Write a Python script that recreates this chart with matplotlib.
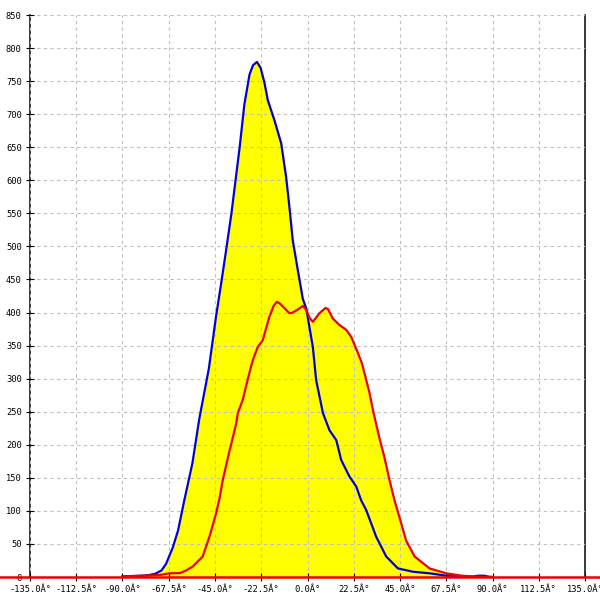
import matplotlib
matplotlib.use("Agg")
import matplotlib.pyplot as plt

# blue series (degrees, count)
blue_deg = [-90, -85, -80, -77, -74, -71, -68.8, -65.6, -63, -60, -56, -52.6, -48,
            -44.5, -42, -39.6, -37, -35, -33, -30.7, -28.2, -26.5, -24.6, -22.8,
            -20.9, -19.3, -16.1, -12.8, -10.4, -8.8, -7.2, -4.7, -2.3, -0.6, 2.6,
            4.2, 7.5, 10.7, 14, 16.4, 20.4, 23.7, 26.1, 28.6, 33.4, 38.3, 44, 51.3,
            59.4, 67.5, 75, 80, 83, 86, 88, 90]
blue_val = [1, 1.5, 2, 3, 5, 10, 20, 44, 70, 115, 172, 240, 315,
            394, 444, 494, 550, 600, 650, 715, 760, 774, 779, 770,
            747, 721, 691, 656, 605, 560, 510, 464, 421, 406, 348,
            298, 248, 222, 207, 177, 152, 137, 116, 101, 61, 31, 13, 8,
            5.6, 2, 1, 0.5, 2, 2, 0.5, 0]

# red series (degrees, count)
red_deg = [-90, -80, -72, -67.2, -62, -59, -55.8, -52.6, -51, -47.7, -44.5, -42.8,
           -41.2, -38, -34.7, -33.9, -31.5, -29, -26.6, -24.2, -21.8, -18.5, -16.5,
           -15, -13.6, -11, -8.8, -7.2, -4.5, -2.3, -0.6, 1, 2.6, 5.8, 8.8, 10,
           12.3, 15.6, 18.8, 21.3, 24, 26.5, 30.2, 31.8, 35, 37.5, 40, 42.5, 45.6,
           48, 52.1, 59.4, 67.5, 75, 80, 90]
red_val = [1, 2, 3, 5.6, 6, 10, 16, 26, 31, 61, 96, 119,
           147, 190, 232, 248, 268, 300, 328, 348, 358, 394, 410,
           416, 414, 406, 399, 400, 405, 410, 404, 392, 386, 399, 407, 405,
           391, 381, 374, 363, 343, 323, 278, 253, 210, 180, 145, 114, 81,
           55, 31, 13, 5.6, 2, 1, 0]

x_ticks = [-135.0, -112.5, -90.0, -67.5, -45.0, -22.5, 0.0, 22.5, 45.0, 67.5, 90.0, 112.5, 135.0]
y_ticks = list(range(0, 851, 50))

fig = plt.figure(figsize=(6, 6), dpi=100)
ax = fig.add_axes([0.05, 0.0383, 0.925, 0.9367])

ax.fill_between(blue_deg, blue_val, 0, color="#ffff00", lw=0, zorder=1)
ax.fill_between(red_deg, red_val, 0, color="#ffff00", lw=0, zorder=1)
ax.plot(blue_deg, blue_val, color="#0000dd", lw=1.6, zorder=3)
ax.plot(red_deg, red_val, color="#ee0000", lw=1.6, zorder=3)

# red baseline running across the whole picture
ax.axhline(0, xmin=-0.06, xmax=1.03, color="#ee0000", lw=1.8, clip_on=False, zorder=4)

ax.set_xlim(-135, 135)
ax.set_ylim(0, 850)
ax.set_xticks(x_ticks)
ax.set_xticklabels([f"{t:.1f}Â°" for t in x_ticks])
ax.set_yticks(y_ticks)
ax.set_yticklabels([str(t) for t in y_ticks])

ax.set_axisbelow(False)
ax.grid(True, color="#c0c0c0", linestyle=(0, (3, 3)), lw=0.8, zorder=2)

for side in ["top", "bottom"]:
    ax.spines[side].set_visible(False)
for side in ["left", "right"]:
    ax.spines[side].set_linewidth(1.1)
ax.tick_params(direction="inout", length=6, width=0.8, pad=3,
               labelsize=6.3, labelfontfamily="DejaVu Sans Mono")

fig.savefig("out.png", dpi=100)
